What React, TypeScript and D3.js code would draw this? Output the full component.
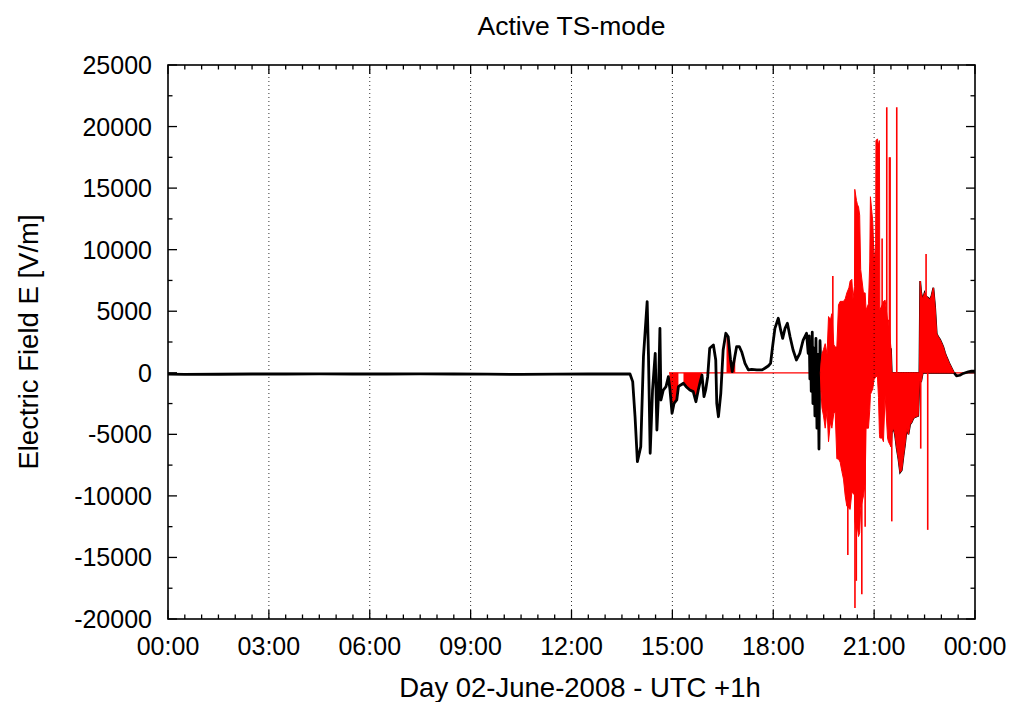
import React from 'react';
import * as d3 from 'd3';

// ---------- data ----------
const xMajorHours = [0, 3, 6, 9, 12, 15, 18, 21, 24];
const xTickLabels = ['00:00', '03:00', '06:00', '09:00', '12:00', '15:00', '18:00', '21:00', '00:00'];
const yMajorTicks = [-20000, -15000, -10000, -5000, 0, 5000, 10000, 15000, 20000, 25000];

const titleText = 'Active TS-mode';
const xLabelText = 'Day 02-June-2008 - UTC +1h';
const yLabelText = 'Electric Field E [V/m]';

// black trace (hours, V/m)
const blackT = [0, 0.5, 1.5, 2.5, 3.5, 4.5, 5.5, 6.5, 7.5, 8.5, 9.5, 10.5, 11.5, 12.5, 13.5, 13.74, 13.82, 13.89, 13.96, 14.06, 14.14, 14.25, 14.29, 14.34, 14.41, 14.49, 14.54, 14.58, 14.63, 14.66, 14.73, 14.81, 14.88, 14.93, 14.99, 15.05, 15.13, 15.18, 15.25, 15.33, 15.41, 15.52, 15.62, 15.7, 15.77, 15.84, 15.88, 15.94, 15.99, 16.05, 16.11, 16.22, 16.29, 16.32, 16.37, 16.44, 16.51, 16.59, 16.66, 16.73, 16.78, 16.83, 16.91, 16.99, 17.06, 17.16, 17.26, 17.36, 17.51, 17.66, 17.75, 17.85, 17.92, 17.98, 18.05, 18.15, 18.22, 18.28, 18.35, 18.42, 18.5, 18.59, 18.69, 18.79, 18.89, 18.99, 19.04, 19.07, 19.09, 19.11, 19.13, 19.16, 19.18, 19.21, 19.24, 19.27, 19.3, 19.33, 19.36, 19.39, 19.42];
const blackV = [-110, -130, -120, -100, -100, -95, -100, -100, -90, -100, -110, -130, -110, -100, -100, -100, -720, -3570, -7220, -6000, 1310, 5780, 1310, -6540, -1400, 1580, -4650, -2210, 3610, -2210, -1400, -1130, -320, -1400, -3290, -2480, -2210, -1130, -990, -850, -1130, -1400, -1530, -2350, -1400, -590, -180, -1940, -1400, -320, 1990, 2260, 1040, -2480, -3570, -1670, 1850, 3210, 2930, 1040, 90, 900, 2120, 2120, 1710, 770, 230, 280, 230, 230, 365, 550, 770, 2120, 3610, 4430, 3480, 2800, 3610, 4020, 2930, 1850, 1040, 1580, 2660, 3210, 1580, 3000, -500, 2500, -1500, 3300, -2500, 2000, -3500, 2800, -4500, 1500, -6200, 2600, 0];

// black trace after the dense active period
const tailT = [23.376, 23.45, 23.55, 23.65, 23.8, 23.9, 24];
const tailV = [0, -250, -200, -50, 80, 150, 150];

// TS-mode start (red zero line) and short active windows in the black trace
const tsModeStart = 14.9;
const tsWindowStart = [14.91, 15.33, 16.61];
const tsWindowEnd = [15.18, 15.87, 16.87];

// dense active period: envelope of the rapidly oscillating field
const redT = [19.4, 19.42, 19.45, 19.495, 19.545, 19.6, 19.644, 19.7, 19.743, 19.8, 19.842, 19.891, 19.94, 19.99, 20.04, 20.089, 20.14, 20.188, 20.25, 20.287, 20.337, 20.37, 20.415, 20.425, 20.475, 20.505, 20.535, 20.57, 20.6, 20.683, 20.733, 20.76, 20.832, 20.87, 20.89, 20.96, 21.0, 21.045, 21.055, 21.099, 21.13, 21.158, 21.17, 21.238, 21.277, 21.327, 21.4, 21.426, 21.5, 21.525, 21.574, 21.62, 21.673, 21.723, 21.772, 21.822, 21.871, 21.92, 21.97, 22.02, 22.069, 22.12, 22.168, 22.22, 22.267, 22.31, 22.347, 22.37, 22.4, 22.446, 22.5, 22.545, 22.614, 22.663, 22.71, 22.762, 22.812, 22.861, 22.91, 22.96, 23.01, 23.059, 23.11, 23.158, 23.23, 23.307, 23.376];
const redHi = [0, 800, 1540, 1900, 2365, 1500, 4565, 4300, 4800, 2300, 2090, 2090, 5500, 5800, 5800, 5800, 6000, 6490, 6900, 7450, 7590, 6000, 7000, 14900, 14000, 13640, 13500, 12800, 8400, 6490, 6490, 5100, 5600, 9000, 14300, 12260, 9000, 10500, 18860, 19000, 18500, 18860, 5100, 5500, 5800, 5900, 4290, 4290, 2000, 0, 0, 0, 0, 0, 0, 0, 0, 0, 0, 0, 0, 0, 0, 0, 0, 0, 0, 7450, 6500, 5940, 6500, 6200, 6080, 5900, 6300, 6900, 5400, 3190, 2900, 2700, 2400, 2090, 1600, 1265, 800, 385, 0];
const redLo = [0, -1500, -2860, -3500, -4500, -3000, -5600, -4000, -4500, -3300, -3190, -6985, -7000, -7260, -8000, -8635, -10000, -10835, -11000, -11100, -9700, -9800, -9900, -12000, -13000, -12500, -13300, -13000, -11000, -10000, -9000, -4500, -4500, -3000, -1760, -1300, -500, -400, -300, -300, -2000, -5000, -5300, -5300, -5600, -1800, -5300, -5600, -6000, -4800, -4500, -5000, -6160, -7000, -8085, -7900, -6800, -5800, -4500, -5000, -4200, -4000, -3685, -3600, -3550, -3500, -700, -700, -700, 0, 0, 0, 0, 0, 0, 0, 0, 0, 0, 0, 0, 0, 0, 0, 0, 0, 0];

// isolated narrow spikes inside the dense period
const spikeT = [19.772, 20.218, 20.43, 20.47, 20.634, 20.733, 21.238, 21.376, 21.455, 21.475, 21.525, 21.673, 22.386, 22.545, 22.594];
const spikeV = [7865, -14800, -19100, -16900, -17990, -12500, 10900, 21560, 17500, 17500, -12070, 21560, -6160, 9650, -12760];

// ---------- layout ----------
const W = 1013;
const H = 702;
const L = 168, R = 975, T = 65, B = 619;
const FONT = 'Liberation Sans, Arial, Helvetica, sans-serif';
const FS = 25;

export default function App() {
  const x = d3.scaleLinear().domain([0, 24]).range([L, R]);
  const y = d3.scaleLinear().domain([-20000, 25000]).range([B, T]);

  const black = blackT.map((t, i) => ({ t, v: blackV[i] }));
  const tail = tailT.map((t, i) => ({ t, v: tailV[i] }));
  const env = redT.map((t, i) => ({ t, hi: redHi[i], lo: redLo[i] }));

  const line = d3.line<{ t: number; v: number }>().x(d => x(d.t)).y(d => y(d.v));
  const areaZero = d3.area<{ t: number; v: number }>().x(d => x(d.t)).y0(y(0)).y1(d => y(d.v));
  const envArea = d3.area<{ t: number; hi: number; lo: number }>().x(d => x(d.t)).y0(d => y(d.lo)).y1(d => y(d.hi));
  const envLo = d3.line<{ t: number; hi: number; lo: number }>().x(d => x(d.t)).y(d => y(d.lo));
  const envHi = d3.line<{ t: number; hi: number; lo: number }>().x(d => x(d.t)).y(d => y(d.hi));
  const lateEnv = env.filter(d => d.t >= 21.5);

  const xMinor = d3.range(0, 24.001, 0.5).filter(h => !xMajorHours.includes(h));
  const yMinor = d3.range(-20000, 25001, 2500).filter(v => !yMajorTicks.includes(v));
  const major = 9, minor = 4.5;

  return (
    <svg width={W} height={H} style={{ position: 'absolute', left: 0, top: 0, background: '#fff' }} fontFamily={FONT}>
      <defs>
        <clipPath id="plot">
          <rect x={L} y={T} width={R - L} height={B - T} />
        </clipPath>
        <clipPath id="tswin">
          {tsWindowStart.map((s, i) => (
            <rect key={i} x={x(s)} y={T} width={x(tsWindowEnd[i]) - x(s)} height={B - T} />
          ))}
        </clipPath>
      </defs>
      <rect x={0} y={0} width={W} height={H} fill="#fff" />

      <g clipPath="url(#plot)">
        <line x1={x(tsModeStart)} x2={x(24)} y1={y(0)} y2={y(0)} stroke="#ff0000" strokeWidth={1.2} />
        <path d={areaZero(black) || ''} fill="#ff0000" clipPath="url(#tswin)" />
        <path d={line(black) || ''} fill="none" stroke="#000" strokeWidth={2.8} strokeLinejoin="round" />
        <path d={line(tail) || ''} fill="none" stroke="#000" strokeWidth={2.6} strokeLinejoin="round" />
        <path d={envLo(lateEnv) || ''} fill="none" stroke="#000" strokeWidth={1.8} />
        <path d={envHi(lateEnv) || ''} fill="none" stroke="#000" strokeWidth={1.8} />
        <path d={envArea(env) || ''} fill="#ff0000" stroke="#ff0000" strokeWidth={1} strokeLinejoin="miter" />
        {spikeT.map((t, i) => (
          <line key={'s' + i} x1={x(t)} x2={x(t)} y1={y(0)} y2={y(spikeV[i])} stroke="#ff0000" strokeWidth={1.6} />
        ))}
      </g>

      {xMajorHours.slice(1, -1).map(h => (
        <line key={'g' + h} x1={x(h)} x2={x(h)} y1={T} y2={B} stroke="#000" strokeWidth={1} strokeDasharray="1,3" opacity={0.8} />
      ))}

      <rect x={L} y={T} width={R - L} height={B - T} fill="none" stroke="#000" strokeWidth={1.6} />

      {xMajorHours.map(h => (
        <g key={'xm' + h}>
          <line x1={x(h)} x2={x(h)} y1={B} y2={B - major} stroke="#000" strokeWidth={1.3} />
          <line x1={x(h)} x2={x(h)} y1={T} y2={T + major} stroke="#000" strokeWidth={1.3} />
        </g>
      ))}
      {xMinor.map(h => (
        <g key={'xn' + h}>
          <line x1={x(h)} x2={x(h)} y1={B} y2={B - minor} stroke="#000" strokeWidth={1.3} />
          <line x1={x(h)} x2={x(h)} y1={T} y2={T + minor} stroke="#000" strokeWidth={1.3} />
        </g>
      ))}
      {yMajorTicks.map(v => (
        <g key={'ym' + v}>
          <line x1={L} x2={L + major} y1={y(v)} y2={y(v)} stroke="#000" strokeWidth={1.3} />
          <line x1={R} x2={R - major} y1={y(v)} y2={y(v)} stroke="#000" strokeWidth={1.3} />
        </g>
      ))}
      {yMinor.map(v => (
        <g key={'yn' + v}>
          <line x1={L} x2={L + minor} y1={y(v)} y2={y(v)} stroke="#000" strokeWidth={1.3} />
          <line x1={R} x2={R - minor} y1={y(v)} y2={y(v)} stroke="#000" strokeWidth={1.3} />
        </g>
      ))}

      {yMajorTicks.map(v => (
        <text key={'yl' + v} x={L - 16} y={y(v) + 9} textAnchor="end" fontSize={FS} fill="#000">{v}</text>
      ))}
      {xMajorHours.map((h, i) => (
        <text key={'xl' + i} x={x(h)} y={B + 36} textAnchor="middle" fontSize={FS} fill="#000">{xTickLabels[i]}</text>
      ))}

      <text x={(L + R) / 2} y={35} textAnchor="middle" fontSize={26.5} fill="#000">{titleText}</text>
      <text x={580} y={697} textAnchor="middle" fontSize={27.5} fill="#000">{xLabelText}</text>
      <text transform={`translate(38,${(T + B) / 2}) rotate(-90)`} textAnchor="middle" fontSize={27.5} fill="#000">{yLabelText}</text>
    </svg>
  );
}
